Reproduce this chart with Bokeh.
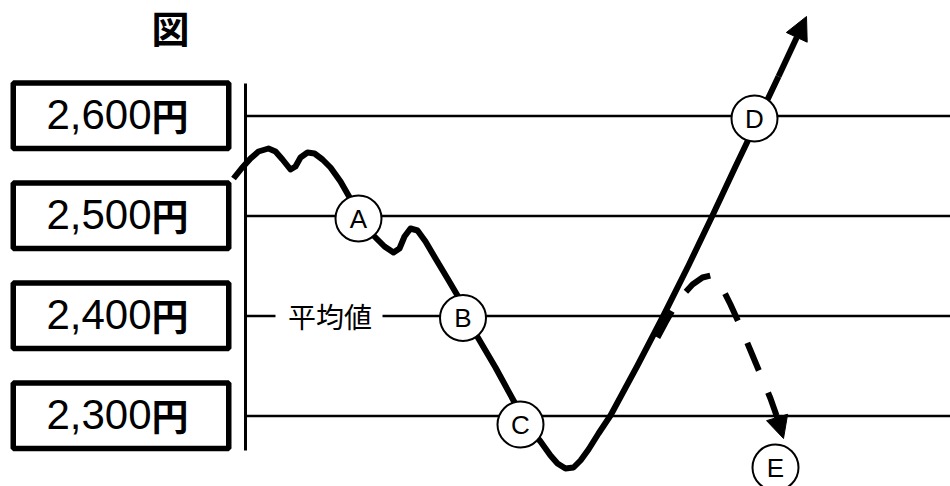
from bokeh.plotting import figure
from bokeh.models import Range1d, Arrow, NormalHead
from bokeh.core.properties import value
from bokeh.embed import file_html
from bokeh.resources import INLINE

# ---------------- data ----------------
title_text = "図"
levels = [2600, 2500, 2400, 2300]
level_numbers = ["2,600", "2,500", "2,400", "2,300"]
yen_sign = "円"
avg_label = "平均値"
avg_price = 2400

# main price path (time position, price in yen)
main_t = [233, 241, 250, 258, 268, 275, 282, 290, 295, 300, 307, 314, 322, 330,
          340, 348, 358, 373, 384, 393, 399, 404, 410, 417, 425, 435, 447, 457,
          462, 475, 495, 513, 527, 540, 550, 557, 565, 573, 580, 588, 598, 610,
          637, 663, 688, 712, 735, 758, 778]
main_price = [2537.5, 2547.5, 2557.5, 2564.5, 2567.5, 2564.5, 2556.5, 2546.5,
              2549.5, 2558.5, 2563.5, 2562.5, 2556.5, 2548.5, 2534.5, 2520.5,
              2503.5, 2480.5, 2469.5, 2463.5, 2467.5, 2479.5, 2487.5, 2485.5,
              2474.5, 2457.5, 2437.5, 2420.5, 2407.5, 2382.5, 2348.5, 2315.5,
              2290.5, 2274.5, 2260.5, 2252.5, 2247.5, 2248.5, 2255.5, 2266.5,
              2282.5, 2300.5, 2350.5, 2400.5, 2450.5, 2500.5, 2549.5, 2597.5,
              2639.5]
main_tip_t, main_tip_price = 806, 2699.5

# alternative (dashed) path towards E
alt_t = [657, 665, 673, 682, 692, 702, 710, 716, 722, 730, 740, 750, 760, 770, 776]
alt_price = [2378.5, 2393.5, 2407.5, 2420.5, 2431.5, 2438.5, 2440.5, 2436.5,
             2427.5, 2411.5, 2389.5, 2365.5, 2341.5, 2317.5, 2300.5]
alt_tip_t, alt_tip_price = 783, 2277.5

# labelled points
pt_labels = ["A", "B", "C", "D", "E"]
pt_t = [358, 462.5, 520, 754, 775]
pt_price = [2497.5, 2398, 2291.5, 2597.5, 2248.5]

# ---------------- figure ----------------
p = figure(width=950, height=486, x_range=Range1d(0, 950),
           y_range=Range1d(2229.5, 2715.5), output_backend="svg",
           toolbar_location=None, x_axis_location=None, y_axis_location=None,
           min_border=0)
p.grid.visible = False
p.outline_line_color = None
p.background_fill_color = "white"
p.border_fill_color = "white"

# horizontal price lines
full = [lv for lv in levels if lv != avg_price]
p.segment(x0=[245] * len(full), y0=full, x1=[960] * len(full), y1=full,
          line_color="black", line_width=2.5)
p.segment(x0=[245, 382], y0=[avg_price, avg_price], x1=[275, 960],
          y1=[avg_price, avg_price], line_color="black", line_width=2.5)

# vertical axis line
p.segment(x0=[245], y0=[2632.5], x1=[245], y1=[2265.5], line_color="black",
          line_width=3)

# boxes with labels
box_y = [lv + 0.3 for lv in levels]
p.rect(x=[120.5] * 4, y=box_y, width=215.5, height=65.5,
       width_units="screen", height_units="screen", fill_color="white",
       line_color="black", line_width=5.5)
p.text(x=[151] * 4, y=[lv + 1.5 for lv in levels], text=level_numbers,
       text_font=value("Liberation Sans"),
       text_font_size=value("42px"), text_align="right",
       text_baseline="middle", text_color="black")
p.text(x=[151] * 4, y=[lv + 1.5 for lv in levels], text=[yen_sign] * 4,
       text_font=value("Noto Sans CJK JP"), text_font_style="bold",
       text_font_size=value("37px"), text_align="left",
       text_baseline="middle", text_color="black")

# title
p.text(x=[170], y=[2689.5], text=[title_text],
       text_font=value("Noto Sans CJK JP"), text_font_size=value("38px"),
       text_font_style="bold", text_align="center", text_baseline="middle",
       text_color="black")

# average label
p.text(x=[329.5], y=[avg_price], text=[avg_label],
       text_font=value("Noto Sans CJK JP"), text_font_size=value("28px"),
       text_align="center", text_baseline="middle", text_color="black")

# paths
p.line(main_t, main_price, line_color="black", line_width=6, line_join="round")
p.add_layout(Arrow(end=NormalHead(size=23, fill_color="black", line_color="black",
                                  line_width=1),
                   x_start=main_t[-1], y_start=main_price[-1],
                   x_end=main_tip_t, y_end=main_tip_price,
                   line_color="black", line_width=6))

p.line(alt_t, alt_price, line_color="black", line_width=6, line_dash="30 24")
p.add_layout(Arrow(end=NormalHead(size=22, fill_color="black", line_color="black",
                                  line_width=1),
                   x_start=alt_t[-1], y_start=alt_price[-1],
                   x_end=alt_tip_t, y_end=alt_tip_price,
                   line_color="black", line_width=6))

# labelled circles
p.scatter(pt_t, pt_price, size=46, marker="circle", fill_color="white",
          line_color="black", line_width=2)
p.text(x=pt_t, y=pt_price, text=pt_labels, text_font=value("Liberation Sans"),
       text_font_size=value("26px"), text_align="center",
       text_baseline="middle", text_color="black")

open("out.html", "w").write(file_html(p, INLINE))
